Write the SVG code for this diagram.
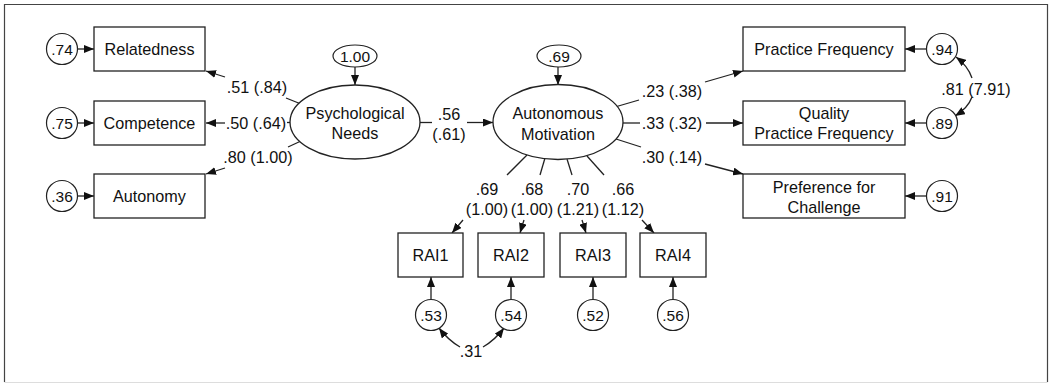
<svg xmlns="http://www.w3.org/2000/svg" width="1049" height="383" viewBox="0 0 1049 383">
<style>
  .box { fill: #fff; stroke: #222; stroke-width: 1.3; }
  .err { fill: #fff; stroke: #222; stroke-width: 1.2; }
  .lat { fill: #fff; stroke: #222; stroke-width: 1.3; }
  .lbl { font-family: "Liberation Sans", Arial, sans-serif; font-size: 16.2px; fill: #111; text-anchor: middle; }
  .elbl { font-family: "Liberation Sans", Arial, sans-serif; font-size: 15.5px; fill: #111; text-anchor: middle; }
  .ln { fill: none; stroke: #222; stroke-width: 1.3; }
  .arr { fill: none; stroke: #222; stroke-width: 1.3; marker-end: url(#ah); }
</style>
<defs>
  <marker id="ah" markerUnits="userSpaceOnUse" viewBox="0 0 10 8" refX="10" refY="4" markerWidth="10" markerHeight="8" orient="auto">
    <path d="M0,0 L10,4 L0,8 z" fill="#111"/>
  </marker>
</defs>
<rect x="4.5" y="4.5" width="1043" height="378" fill="#fff" stroke="none"/>
<path d="M4.5,382 L4.5,4.5 L1047.5,4.5 L1047.5,382" fill="none" stroke="#444" stroke-width="1.2"/>
<line x1="4.5" y1="382.5" x2="1047.5" y2="382.5" stroke="#ddd" stroke-width="1"/>

<g id="connectors">
  <!-- error arrows left -->
  <line class="arr" x1="77.5" y1="49" x2="94" y2="49"/>
  <line class="arr" x1="77.5" y1="123" x2="94" y2="123"/>
  <line class="arr" x1="77.5" y1="196" x2="94" y2="196"/>
  <!-- PN -> indicators -->
  <line class="ln" x1="301" y1="104" x2="286" y2="98"/>
  <line class="arr" x1="225" y1="77" x2="206" y2="71"/>
  <line class="ln" x1="291" y1="122.5" x2="287" y2="122.5"/>
  <line class="arr" x1="225" y1="123" x2="206" y2="123"/>
  <line class="ln" x1="301" y1="141" x2="288" y2="147"/>
  <line class="arr" x1="225" y1="168" x2="206" y2="174"/>
  <!-- disturbance arrows -->
  <line class="arr" x1="355" y1="67" x2="355" y2="85"/>
  <line class="arr" x1="558" y1="67" x2="558" y2="85"/>
  <!-- PN -> AM -->
  <line class="ln" x1="420" y1="122.5" x2="432" y2="122.5"/>
  <line class="arr" x1="467" y1="122.5" x2="493" y2="122.5"/>
  <!-- AM -> outcomes -->
  <line class="ln" x1="615" y1="107" x2="639" y2="100"/>
  <line class="arr" x1="705" y1="82" x2="743" y2="71"/>
  <line class="ln" x1="623" y1="123" x2="640" y2="123"/>
  <line class="arr" x1="706" y1="123" x2="743" y2="123"/>
  <line class="ln" x1="616" y1="139" x2="641" y2="147"/>
  <line class="arr" x1="705" y1="164" x2="743" y2="174"/>
  <!-- outcome error arrows -->
  <line class="arr" x1="926.5" y1="49" x2="905" y2="49"/>
  <line class="arr" x1="926.5" y1="123" x2="905" y2="123"/>
  <line class="arr" x1="926.5" y1="196" x2="905" y2="196"/>
  <!-- correlation .94 / .89 -->
  <path class="arr" d="M972,78 Q968,66 956,57"/>
  <path class="arr" d="M972,97 Q968,108 955,116"/>
  <!-- AM -> RAI -->
  <line class="ln" x1="527" y1="155" x2="507" y2="175"/>
  <line class="ln" x1="545" y1="158" x2="540" y2="175"/>
  <line class="ln" x1="567" y1="159" x2="572" y2="175"/>
  <line class="ln" x1="587" y1="156" x2="604" y2="175"/>
  <line class="arr" x1="463" y1="220" x2="452" y2="233"/>
  <line class="arr" x1="524" y1="220" x2="520" y2="233"/>
  <line class="arr" x1="582" y1="220" x2="586" y2="233"/>
  <line class="arr" x1="642" y1="220" x2="654" y2="233"/>
  <!-- RAI error arrows -->
  <line class="arr" x1="431" y1="299.5" x2="431" y2="277"/>
  <line class="arr" x1="511" y1="299.5" x2="511" y2="277"/>
  <line class="arr" x1="593" y1="299.5" x2="593" y2="277"/>
  <line class="arr" x1="673" y1="299.5" x2="673" y2="277"/>
  <!-- correlation .53 / .54 -->
  <path class="arr" d="M460,347 Q448,340 439,328"/>
  <path class="arr" d="M483,347 Q495,340 504,328"/>
</g>

<g id="path-labels">
  <text class="lbl" x="257" y="93">.51 (.84)</text>
  <text class="lbl" x="256" y="128.5">.50 (.64)</text>
  <text class="lbl" x="258" y="163">.80 (1.00)</text>
  <text class="lbl" x="449" y="120">.56</text>
  <text class="lbl" x="449" y="140">(.61)</text>
  <text class="lbl" x="672" y="97">.23 (.38)</text>
  <text class="lbl" x="672" y="129">.33 (.32)</text>
  <text class="lbl" x="672" y="163">.30 (.14)</text>
  <text class="lbl" x="976" y="95">.81 (7.91)</text>
  <text class="lbl" x="487" y="195">.69</text>
  <text class="lbl" x="487" y="215">(1.00)</text>
  <text class="lbl" x="532" y="195">.68</text>
  <text class="lbl" x="532" y="215">(1.00)</text>
  <text class="lbl" x="578" y="195">.70</text>
  <text class="lbl" x="578" y="215">(1.21)</text>
  <text class="lbl" x="623" y="195">.66</text>
  <text class="lbl" x="623" y="215">(1.12)</text>
  <text class="lbl" x="471" y="357">.31</text>
</g>

<g id="e-relatedness"><circle class="err" cx="62" cy="49" r="15.5"/><text class="elbl" x="62" y="54.5">.74</text></g>
<g id="e-competence"><circle class="err" cx="62" cy="123" r="15.5"/><text class="elbl" x="62" y="128.5">.75</text></g>
<g id="e-autonomy"><circle class="err" cx="62" cy="196" r="15.5"/><text class="elbl" x="62" y="201.5">.36</text></g>

<g id="relatedness"><rect class="box" x="94" y="27" width="111" height="44"/><text class="lbl" x="149.5" y="55">Relatedness</text></g>
<g id="competence"><rect class="box" x="94" y="101" width="111" height="44"/><text class="lbl" x="149.5" y="129">Competence</text></g>
<g id="autonomy"><rect class="box" x="94" y="174" width="111" height="44"/><text class="lbl" x="149.5" y="202">Autonomy</text></g>

<g id="d-needs"><ellipse class="err" cx="355" cy="56" rx="22" ry="11"/><text class="elbl" x="355" y="61.5">1.00</text></g>
<g id="psychological-needs"><ellipse class="lat" cx="355" cy="122" rx="65" ry="37"/><text class="lbl" x="355" y="119">Psychological</text><text class="lbl" x="355" y="139">Needs</text></g>

<g id="d-motivation"><ellipse class="err" cx="559" cy="56" rx="22" ry="11"/><text class="elbl" x="559" y="61.5">.69</text></g>
<g id="autonomous-motivation"><ellipse class="lat" cx="558" cy="122" rx="65" ry="37.5"/><text class="lbl" x="558" y="119">Autonomous</text><text class="lbl" x="558" y="139.5">Motivation</text></g>

<g id="practice-frequency"><rect class="box" x="743" y="27" width="162" height="44"/><text class="lbl" x="824" y="55">Practice Frequency</text></g>
<g id="quality-practice-frequency"><rect class="box" x="743" y="101" width="162" height="44"/><text class="lbl" x="824" y="119">Quality</text><text class="lbl" x="824" y="139">Practice Frequency</text></g>
<g id="preference-for-challenge"><rect class="box" x="743" y="174" width="162" height="44"/><text class="lbl" x="824" y="192.5">Preference for</text><text class="lbl" x="824" y="212.5">Challenge</text></g>

<g id="e-practice"><circle class="err" cx="942" cy="49" r="15.5"/><text class="elbl" x="942" y="54.5">.94</text></g>
<g id="e-quality"><circle class="err" cx="942" cy="123" r="15.5"/><text class="elbl" x="942" y="128.5">.89</text></g>
<g id="e-preference"><circle class="err" cx="942" cy="196" r="15.5"/><text class="elbl" x="942" y="201.5">.91</text></g>

<g id="rai1"><rect class="box" x="398" y="233" width="65" height="44"/><text class="lbl" x="430.5" y="261">RAI1</text></g>
<g id="rai2"><rect class="box" x="478" y="233" width="66" height="44"/><text class="lbl" x="511" y="261">RAI2</text></g>
<g id="rai3"><rect class="box" x="560" y="233" width="66" height="44"/><text class="lbl" x="593" y="261">RAI3</text></g>
<g id="rai4"><rect class="box" x="640" y="233" width="66" height="44"/><text class="lbl" x="673" y="261">RAI4</text></g>

<g id="e-rai1"><circle class="err" cx="431" cy="315" r="15.5"/><text class="elbl" x="431" y="320.5">.53</text></g>
<g id="e-rai2"><circle class="err" cx="511" cy="315" r="15.5"/><text class="elbl" x="511" y="320.5">.54</text></g>
<g id="e-rai3"><circle class="err" cx="593" cy="315" r="15.5"/><text class="elbl" x="593" y="320.5">.52</text></g>
<g id="e-rai4"><circle class="err" cx="673" cy="315" r="15.5"/><text class="elbl" x="673" y="320.5">.56</text></g>
</svg>
